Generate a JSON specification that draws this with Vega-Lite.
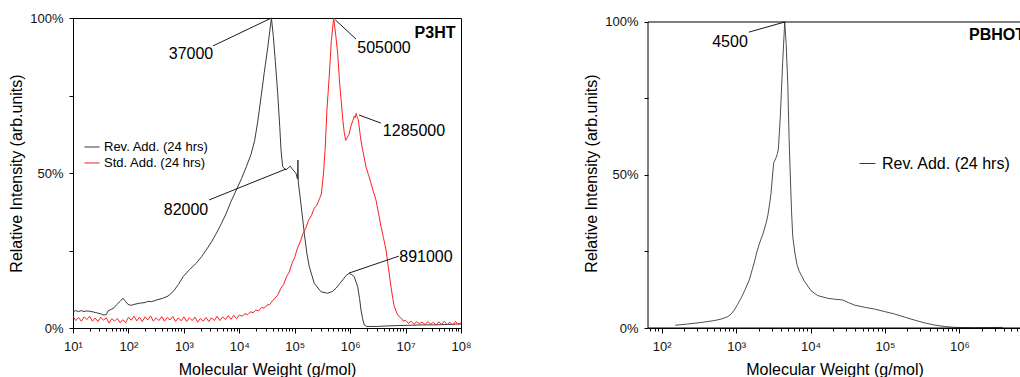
{
  "$schema": "https://vega.github.io/schema/vega-lite/v6.json",
  "padding": {"left": 8, "top": 11, "right": 0, "bottom": 0},
  "spacing": 187,
  "bounds": "flush",
  "config": {
    "font": "Liberation Sans",
    "view": {"stroke": null},
    "axis": {"domainColor": "#000", "tickColor": "#000", "labelColor": "#111", "titleColor": "#000", "titleFontWeight": "normal", "grid": false, "labelFont": "Liberation Sans", "titleFont": "Liberation Sans"},
    "legend": {"labelFont": "Liberation Sans"},
    "text": {"font": "Liberation Sans"}
  },
  "resolve": {"scale": {"x": "independent", "y": "independent", "color": "independent"}, "legend": {"color": "independent"}},
  "datasets": {
    "p3ht": [
      {"s": "Rev. Add. (24 hrs)", "M": 10, "y": 0.052},
      {"s": "Rev. Add. (24 hrs)", "M": 11.22, "y": 0.056},
      {"s": "Rev. Add. (24 hrs)", "M": 12.59, "y": 0.053},
      {"s": "Rev. Add. (24 hrs)", "M": 14.13, "y": 0.056},
      {"s": "Rev. Add. (24 hrs)", "M": 15.85, "y": 0.053},
      {"s": "Rev. Add. (24 hrs)", "M": 17.78, "y": 0.055},
      {"s": "Rev. Add. (24 hrs)", "M": 19.95, "y": 0.054},
      {"s": "Rev. Add. (24 hrs)", "M": 22.96, "y": 0.052},
      {"s": "Rev. Add. (24 hrs)", "M": 25.12, "y": 0.050},
      {"s": "Rev. Add. (24 hrs)", "M": 28.18, "y": 0.048},
      {"s": "Rev. Add. (24 hrs)", "M": 31.62, "y": 0.046},
      {"s": "Rev. Add. (24 hrs)", "M": 34.75, "y": 0.042},
      {"s": "Rev. Add. (24 hrs)", "M": 39.81, "y": 0.043},
      {"s": "Rev. Add. (24 hrs)", "M": 42.76, "y": 0.055},
      {"s": "Rev. Add. (24 hrs)", "M": 50.12, "y": 0.061},
      {"s": "Rev. Add. (24 hrs)", "M": 54.95, "y": 0.065},
      {"s": "Rev. Add. (24 hrs)", "M": 60.4, "y": 0.074},
      {"s": "Rev. Add. (24 hrs)", "M": 70.79, "y": 0.086},
      {"s": "Rev. Add. (24 hrs)", "M": 79.8, "y": 0.096},
      {"s": "Rev. Add. (24 hrs)", "M": 89.13, "y": 0.085},
      {"s": "Rev. Add. (24 hrs)", "M": 98.2, "y": 0.076},
      {"s": "Rev. Add. (24 hrs)", "M": 112.2, "y": 0.073},
      {"s": "Rev. Add. (24 hrs)", "M": 125.9, "y": 0.076},
      {"s": "Rev. Add. (24 hrs)", "M": 159.6, "y": 0.080},
      {"s": "Rev. Add. (24 hrs)", "M": 199.5, "y": 0.082},
      {"s": "Rev. Add. (24 hrs)", "M": 223.9, "y": 0.086},
      {"s": "Rev. Add. (24 hrs)", "M": 263, "y": 0.085},
      {"s": "Rev. Add. (24 hrs)", "M": 318.4, "y": 0.090},
      {"s": "Rev. Add. (24 hrs)", "M": 416.9, "y": 0.096},
      {"s": "Rev. Add. (24 hrs)", "M": 517.6, "y": 0.103},
      {"s": "Rev. Add. (24 hrs)", "M": 636.8, "y": 0.117},
      {"s": "Rev. Add. (24 hrs)", "M": 794.3, "y": 0.140},
      {"s": "Rev. Add. (24 hrs)", "M": 963.8, "y": 0.165},
      {"s": "Rev. Add. (24 hrs)", "M": 1259, "y": 0.188},
      {"s": "Rev. Add. (24 hrs)", "M": 1675, "y": 0.209},
      {"s": "Rev. Add. (24 hrs)", "M": 2089, "y": 0.230},
      {"s": "Rev. Add. (24 hrs)", "M": 2541, "y": 0.252},
      {"s": "Rev. Add. (24 hrs)", "M": 3162, "y": 0.278},
      {"s": "Rev. Add. (24 hrs)", "M": 3846, "y": 0.305},
      {"s": "Rev. Add. (24 hrs)", "M": 4786, "y": 0.338},
      {"s": "Rev. Add. (24 hrs)", "M": 5821, "y": 0.370},
      {"s": "Rev. Add. (24 hrs)", "M": 7079, "y": 0.408},
      {"s": "Rev. Add. (24 hrs)", "M": 8831, "y": 0.445},
      {"s": "Rev. Add. (24 hrs)", "M": 10960, "y": 0.482},
      {"s": "Rev. Add. (24 hrs)", "M": 13400, "y": 0.520},
      {"s": "Rev. Add. (24 hrs)", "M": 16260, "y": 0.560},
      {"s": "Rev. Add. (24 hrs)", "M": 18970, "y": 0.605},
      {"s": "Rev. Add. (24 hrs)", "M": 21480, "y": 0.665},
      {"s": "Rev. Add. (24 hrs)", "M": 25120, "y": 0.755},
      {"s": "Rev. Add. (24 hrs)", "M": 28250, "y": 0.825},
      {"s": "Rev. Add. (24 hrs)", "M": 32360, "y": 0.900},
      {"s": "Rev. Add. (24 hrs)", "M": 34750, "y": 0.945},
      {"s": "Rev. Add. (24 hrs)", "M": 38020, "y": 1.0},
      {"s": "Rev. Add. (24 hrs)", "M": 41210, "y": 0.940},
      {"s": "Rev. Add. (24 hrs)", "M": 44670, "y": 0.860},
      {"s": "Rev. Add. (24 hrs)", "M": 49320, "y": 0.757},
      {"s": "Rev. Add. (24 hrs)", "M": 53700, "y": 0.650},
      {"s": "Rev. Add. (24 hrs)", "M": 56620, "y": 0.574},
      {"s": "Rev. Add. (24 hrs)", "M": 60670, "y": 0.520},
      {"s": "Rev. Add. (24 hrs)", "M": 69660, "y": 0.510},
      {"s": "Rev. Add. (24 hrs)", "M": 75860, "y": 0.516},
      {"s": "Rev. Add. (24 hrs)", "M": 83180, "y": 0.522},
      {"s": "Rev. Add. (24 hrs)", "M": 91200, "y": 0.512},
      {"s": "Rev. Add. (24 hrs)", "M": 105400, "y": 0.499},
      {"s": "Rev. Add. (24 hrs)", "M": 112200, "y": 0.480},
      {"s": "Rev. Add. (24 hrs)", "M": 114300, "y": 0.542},
      {"s": "Rev. Add. (24 hrs)", "M": 116400, "y": 0.468},
      {"s": "Rev. Add. (24 hrs)", "M": 129700, "y": 0.400},
      {"s": "Rev. Add. (24 hrs)", "M": 148900, "y": 0.305},
      {"s": "Rev. Add. (24 hrs)", "M": 166000, "y": 0.240},
      {"s": "Rev. Add. (24 hrs)", "M": 183200, "y": 0.198},
      {"s": "Rev. Add. (24 hrs)", "M": 225400, "y": 0.144},
      {"s": "Rev. Add. (24 hrs)", "M": 297900, "y": 0.117},
      {"s": "Rev. Add. (24 hrs)", "M": 392600, "y": 0.112},
      {"s": "Rev. Add. (24 hrs)", "M": 478600, "y": 0.118},
      {"s": "Rev. Add. (24 hrs)", "M": 555900, "y": 0.128},
      {"s": "Rev. Add. (24 hrs)", "M": 645700, "y": 0.143},
      {"s": "Rev. Add. (24 hrs)", "M": 734500, "y": 0.155},
      {"s": "Rev. Add. (24 hrs)", "M": 851100, "y": 0.170},
      {"s": "Rev. Add. (24 hrs)", "M": 966100, "y": 0.176},
      {"s": "Rev. Add. (24 hrs)", "M": 1072000, "y": 0.172},
      {"s": "Rev. Add. (24 hrs)", "M": 1189000, "y": 0.165},
      {"s": "Rev. Add. (24 hrs)", "M": 1368000, "y": 0.133},
      {"s": "Rev. Add. (24 hrs)", "M": 1479000, "y": 0.095},
      {"s": "Rev. Add. (24 hrs)", "M": 1570000, "y": 0.058},
      {"s": "Rev. Add. (24 hrs)", "M": 1679000, "y": 0.030},
      {"s": "Rev. Add. (24 hrs)", "M": 1799000, "y": 0.010},
      {"s": "Rev. Add. (24 hrs)", "M": 1995000, "y": 0.005},
      {"s": "Rev. Add. (24 hrs)", "M": 3162000, "y": 0.005},
      {"s": "Rev. Add. (24 hrs)", "M": 5012000, "y": 0.007},
      {"s": "Rev. Add. (24 hrs)", "M": 7943000, "y": 0.008},
      {"s": "Rev. Add. (24 hrs)", "M": 12590000, "y": 0.009},
      {"s": "Rev. Add. (24 hrs)", "M": 19950000, "y": 0.010},
      {"s": "Rev. Add. (24 hrs)", "M": 31620000, "y": 0.010},
      {"s": "Rev. Add. (24 hrs)", "M": 50120000, "y": 0.011},
      {"s": "Rev. Add. (24 hrs)", "M": 70790000, "y": 0.012},
      {"s": "Rev. Add. (24 hrs)", "M": 100000000, "y": 0.013},
      {"s": "Std. Add. (24 hrs)", "M": 10, "y": 0.038},
      {"s": "Std. Add. (24 hrs)", "M": 11.22, "y": 0.024},
      {"s": "Std. Add. (24 hrs)", "M": 12.59, "y": 0.034},
      {"s": "Std. Add. (24 hrs)", "M": 14.13, "y": 0.022},
      {"s": "Std. Add. (24 hrs)", "M": 15.85, "y": 0.036},
      {"s": "Std. Add. (24 hrs)", "M": 17.78, "y": 0.027},
      {"s": "Std. Add. (24 hrs)", "M": 19.95, "y": 0.038},
      {"s": "Std. Add. (24 hrs)", "M": 22.39, "y": 0.022},
      {"s": "Std. Add. (24 hrs)", "M": 25.12, "y": 0.032},
      {"s": "Std. Add. (24 hrs)", "M": 28.18, "y": 0.021},
      {"s": "Std. Add. (24 hrs)", "M": 31.62, "y": 0.035},
      {"s": "Std. Add. (24 hrs)", "M": 35.48, "y": 0.025},
      {"s": "Std. Add. (24 hrs)", "M": 39.81, "y": 0.033},
      {"s": "Std. Add. (24 hrs)", "M": 44.67, "y": 0.016},
      {"s": "Std. Add. (24 hrs)", "M": 50.12, "y": 0.030},
      {"s": "Std. Add. (24 hrs)", "M": 56.23, "y": 0.022},
      {"s": "Std. Add. (24 hrs)", "M": 63.1, "y": 0.031},
      {"s": "Std. Add. (24 hrs)", "M": 70.79, "y": 0.017},
      {"s": "Std. Add. (24 hrs)", "M": 79.43, "y": 0.027},
      {"s": "Std. Add. (24 hrs)", "M": 89.13, "y": 0.017},
      {"s": "Std. Add. (24 hrs)", "M": 100, "y": 0.035},
      {"s": "Std. Add. (24 hrs)", "M": 112.2, "y": 0.025},
      {"s": "Std. Add. (24 hrs)", "M": 125.9, "y": 0.038},
      {"s": "Std. Add. (24 hrs)", "M": 141.3, "y": 0.023},
      {"s": "Std. Add. (24 hrs)", "M": 158.5, "y": 0.035},
      {"s": "Std. Add. (24 hrs)", "M": 177.8, "y": 0.021},
      {"s": "Std. Add. (24 hrs)", "M": 199.5, "y": 0.036},
      {"s": "Std. Add. (24 hrs)", "M": 223.9, "y": 0.026},
      {"s": "Std. Add. (24 hrs)", "M": 251.2, "y": 0.039},
      {"s": "Std. Add. (24 hrs)", "M": 281.8, "y": 0.022},
      {"s": "Std. Add. (24 hrs)", "M": 316.2, "y": 0.033},
      {"s": "Std. Add. (24 hrs)", "M": 354.8, "y": 0.024},
      {"s": "Std. Add. (24 hrs)", "M": 398.1, "y": 0.037},
      {"s": "Std. Add. (24 hrs)", "M": 446.7, "y": 0.022},
      {"s": "Std. Add. (24 hrs)", "M": 501.2, "y": 0.034},
      {"s": "Std. Add. (24 hrs)", "M": 562.3, "y": 0.026},
      {"s": "Std. Add. (24 hrs)", "M": 631, "y": 0.037},
      {"s": "Std. Add. (24 hrs)", "M": 707.9, "y": 0.021},
      {"s": "Std. Add. (24 hrs)", "M": 794.3, "y": 0.033},
      {"s": "Std. Add. (24 hrs)", "M": 891.3, "y": 0.023},
      {"s": "Std. Add. (24 hrs)", "M": 1000, "y": 0.036},
      {"s": "Std. Add. (24 hrs)", "M": 1122, "y": 0.021},
      {"s": "Std. Add. (24 hrs)", "M": 1259, "y": 0.033},
      {"s": "Std. Add. (24 hrs)", "M": 1413, "y": 0.024},
      {"s": "Std. Add. (24 hrs)", "M": 1585, "y": 0.035},
      {"s": "Std. Add. (24 hrs)", "M": 1778, "y": 0.019},
      {"s": "Std. Add. (24 hrs)", "M": 1995, "y": 0.031},
      {"s": "Std. Add. (24 hrs)", "M": 2239, "y": 0.022},
      {"s": "Std. Add. (24 hrs)", "M": 2512, "y": 0.034},
      {"s": "Std. Add. (24 hrs)", "M": 2818, "y": 0.021},
      {"s": "Std. Add. (24 hrs)", "M": 3162, "y": 0.033},
      {"s": "Std. Add. (24 hrs)", "M": 3548, "y": 0.024},
      {"s": "Std. Add. (24 hrs)", "M": 3981, "y": 0.038},
      {"s": "Std. Add. (24 hrs)", "M": 4467, "y": 0.024},
      {"s": "Std. Add. (24 hrs)", "M": 5012, "y": 0.036},
      {"s": "Std. Add. (24 hrs)", "M": 5623, "y": 0.027},
      {"s": "Std. Add. (24 hrs)", "M": 6310, "y": 0.040},
      {"s": "Std. Add. (24 hrs)", "M": 7079, "y": 0.028},
      {"s": "Std. Add. (24 hrs)", "M": 7943, "y": 0.041},
      {"s": "Std. Add. (24 hrs)", "M": 8913, "y": 0.030},
      {"s": "Std. Add. (24 hrs)", "M": 10000, "y": 0.042},
      {"s": "Std. Add. (24 hrs)", "M": 11220, "y": 0.038},
      {"s": "Std. Add. (24 hrs)", "M": 12590, "y": 0.046},
      {"s": "Std. Add. (24 hrs)", "M": 14130, "y": 0.043},
      {"s": "Std. Add. (24 hrs)", "M": 15850, "y": 0.052},
      {"s": "Std. Add. (24 hrs)", "M": 17780, "y": 0.049},
      {"s": "Std. Add. (24 hrs)", "M": 19950, "y": 0.058},
      {"s": "Std. Add. (24 hrs)", "M": 22390, "y": 0.055},
      {"s": "Std. Add. (24 hrs)", "M": 25120, "y": 0.066},
      {"s": "Std. Add. (24 hrs)", "M": 28180, "y": 0.064},
      {"s": "Std. Add. (24 hrs)", "M": 31620, "y": 0.074},
      {"s": "Std. Add. (24 hrs)", "M": 35480, "y": 0.076},
      {"s": "Std. Add. (24 hrs)", "M": 39810, "y": 0.088},
      {"s": "Std. Add. (24 hrs)", "M": 44670, "y": 0.097},
      {"s": "Std. Add. (24 hrs)", "M": 50120, "y": 0.108},
      {"s": "Std. Add. (24 hrs)", "M": 56230, "y": 0.128},
      {"s": "Std. Add. (24 hrs)", "M": 63100, "y": 0.140},
      {"s": "Std. Add. (24 hrs)", "M": 70790, "y": 0.165},
      {"s": "Std. Add. (24 hrs)", "M": 79430, "y": 0.180},
      {"s": "Std. Add. (24 hrs)", "M": 89130, "y": 0.208},
      {"s": "Std. Add. (24 hrs)", "M": 100000, "y": 0.228},
      {"s": "Std. Add. (24 hrs)", "M": 112200, "y": 0.258},
      {"s": "Std. Add. (24 hrs)", "M": 125900, "y": 0.278},
      {"s": "Std. Add. (24 hrs)", "M": 141300, "y": 0.305},
      {"s": "Std. Add. (24 hrs)", "M": 158500, "y": 0.322},
      {"s": "Std. Add. (24 hrs)", "M": 177800, "y": 0.348},
      {"s": "Std. Add. (24 hrs)", "M": 199500, "y": 0.362},
      {"s": "Std. Add. (24 hrs)", "M": 223900, "y": 0.386},
      {"s": "Std. Add. (24 hrs)", "M": 251200, "y": 0.396},
      {"s": "Std. Add. (24 hrs)", "M": 281800, "y": 0.418},
      {"s": "Std. Add. (24 hrs)", "M": 302000, "y": 0.432},
      {"s": "Std. Add. (24 hrs)", "M": 331100, "y": 0.500},
      {"s": "Std. Add. (24 hrs)", "M": 354800, "y": 0.580},
      {"s": "Std. Add. (24 hrs)", "M": 380200, "y": 0.700},
      {"s": "Std. Add. (24 hrs)", "M": 416900, "y": 0.805},
      {"s": "Std. Add. (24 hrs)", "M": 457100, "y": 0.925},
      {"s": "Std. Add. (24 hrs)", "M": 505000, "y": 1.0},
      {"s": "Std. Add. (24 hrs)", "M": 549500, "y": 0.945},
      {"s": "Std. Add. (24 hrs)", "M": 595700, "y": 0.886},
      {"s": "Std. Add. (24 hrs)", "M": 645700, "y": 0.790},
      {"s": "Std. Add. (24 hrs)", "M": 683900, "y": 0.740},
      {"s": "Std. Add. (24 hrs)", "M": 741300, "y": 0.668},
      {"s": "Std. Add. (24 hrs)", "M": 783400, "y": 0.630},
      {"s": "Std. Add. (24 hrs)", "M": 831800, "y": 0.605},
      {"s": "Std. Add. (24 hrs)", "M": 871000, "y": 0.612},
      {"s": "Std. Add. (24 hrs)", "M": 955000, "y": 0.625},
      {"s": "Std. Add. (24 hrs)", "M": 1035000, "y": 0.652},
      {"s": "Std. Add. (24 hrs)", "M": 1122000, "y": 0.670},
      {"s": "Std. Add. (24 hrs)", "M": 1189000, "y": 0.684},
      {"s": "Std. Add. (24 hrs)", "M": 1230000, "y": 0.678},
      {"s": "Std. Add. (24 hrs)", "M": 1285000, "y": 0.692},
      {"s": "Std. Add. (24 hrs)", "M": 1349000, "y": 0.680},
      {"s": "Std. Add. (24 hrs)", "M": 1403000, "y": 0.672},
      {"s": "Std. Add. (24 hrs)", "M": 1549000, "y": 0.610},
      {"s": "Std. Add. (24 hrs)", "M": 1683000, "y": 0.574},
      {"s": "Std. Add. (24 hrs)", "M": 1932000, "y": 0.520},
      {"s": "Std. Add. (24 hrs)", "M": 2138000, "y": 0.495},
      {"s": "Std. Add. (24 hrs)", "M": 2377000, "y": 0.467},
      {"s": "Std. Add. (24 hrs)", "M": 2630000, "y": 0.440},
      {"s": "Std. Add. (24 hrs)", "M": 2924000, "y": 0.413},
      {"s": "Std. Add. (24 hrs)", "M": 3236000, "y": 0.372},
      {"s": "Std. Add. (24 hrs)", "M": 3606000, "y": 0.327},
      {"s": "Std. Add. (24 hrs)", "M": 3981000, "y": 0.292},
      {"s": "Std. Add. (24 hrs)", "M": 4436000, "y": 0.252},
      {"s": "Std. Add. (24 hrs)", "M": 4898000, "y": 0.195},
      {"s": "Std. Add. (24 hrs)", "M": 5458000, "y": 0.133},
      {"s": "Std. Add. (24 hrs)", "M": 5888000, "y": 0.095},
      {"s": "Std. Add. (24 hrs)", "M": 6266000, "y": 0.069},
      {"s": "Std. Add. (24 hrs)", "M": 7079000, "y": 0.045},
      {"s": "Std. Add. (24 hrs)", "M": 7709000, "y": 0.036},
      {"s": "Std. Add. (24 hrs)", "M": 8511000, "y": 0.030},
      {"s": "Std. Add. (24 hrs)", "M": 9120000, "y": 0.022},
      {"s": "Std. Add. (24 hrs)", "M": 10000000, "y": 0.025},
      {"s": "Std. Add. (24 hrs)", "M": 11220000, "y": 0.015},
      {"s": "Std. Add. (24 hrs)", "M": 12590000, "y": 0.022},
      {"s": "Std. Add. (24 hrs)", "M": 14130000, "y": 0.012},
      {"s": "Std. Add. (24 hrs)", "M": 15850000, "y": 0.020},
      {"s": "Std. Add. (24 hrs)", "M": 17780000, "y": 0.014},
      {"s": "Std. Add. (24 hrs)", "M": 19950000, "y": 0.019},
      {"s": "Std. Add. (24 hrs)", "M": 22390000, "y": 0.011},
      {"s": "Std. Add. (24 hrs)", "M": 25120000, "y": 0.021},
      {"s": "Std. Add. (24 hrs)", "M": 28180000, "y": 0.013},
      {"s": "Std. Add. (24 hrs)", "M": 31620000, "y": 0.018},
      {"s": "Std. Add. (24 hrs)", "M": 35480000, "y": 0.010},
      {"s": "Std. Add. (24 hrs)", "M": 39810000, "y": 0.020},
      {"s": "Std. Add. (24 hrs)", "M": 44670000, "y": 0.012},
      {"s": "Std. Add. (24 hrs)", "M": 50120000, "y": 0.022},
      {"s": "Std. Add. (24 hrs)", "M": 56230000, "y": 0.011},
      {"s": "Std. Add. (24 hrs)", "M": 63100000, "y": 0.019},
      {"s": "Std. Add. (24 hrs)", "M": 70790000, "y": 0.009},
      {"s": "Std. Add. (24 hrs)", "M": 79430000, "y": 0.021},
      {"s": "Std. Add. (24 hrs)", "M": 89130000, "y": 0.012},
      {"s": "Std. Add. (24 hrs)", "M": 100000000, "y": 0.017}
    ],
    "pbhot": [
      {"s2": "Rev. Add. (24 hrs)", "M": 152.4, "y": 0.009},
      {"s2": "Rev. Add. (24 hrs)", "M": 223.9, "y": 0.013},
      {"s2": "Rev. Add. (24 hrs)", "M": 337.3, "y": 0.018},
      {"s2": "Rev. Add. (24 hrs)", "M": 501.2, "y": 0.024},
      {"s2": "Rev. Add. (24 hrs)", "M": 626.6, "y": 0.029},
      {"s2": "Rev. Add. (24 hrs)", "M": 770.9, "y": 0.037},
      {"s2": "Rev. Add. (24 hrs)", "M": 851.1, "y": 0.045},
      {"s2": "Rev. Add. (24 hrs)", "M": 946.2, "y": 0.059},
      {"s2": "Rev. Add. (24 hrs)", "M": 1047, "y": 0.077},
      {"s2": "Rev. Add. (24 hrs)", "M": 1164, "y": 0.097},
      {"s2": "Rev. Add. (24 hrs)", "M": 1318, "y": 0.125},
      {"s2": "Rev. Add. (24 hrs)", "M": 1503, "y": 0.157},
      {"s2": "Rev. Add. (24 hrs)", "M": 1641, "y": 0.190},
      {"s2": "Rev. Add. (24 hrs)", "M": 1758, "y": 0.215},
      {"s2": "Rev. Add. (24 hrs)", "M": 1905, "y": 0.250},
      {"s2": "Rev. Add. (24 hrs)", "M": 2051, "y": 0.275},
      {"s2": "Rev. Add. (24 hrs)", "M": 2280, "y": 0.306},
      {"s2": "Rev. Add. (24 hrs)", "M": 2512, "y": 0.340},
      {"s2": "Rev. Add. (24 hrs)", "M": 2661, "y": 0.366},
      {"s2": "Rev. Add. (24 hrs)", "M": 2818, "y": 0.405},
      {"s2": "Rev. Add. (24 hrs)", "M": 2944, "y": 0.440},
      {"s2": "Rev. Add. (24 hrs)", "M": 3090, "y": 0.500},
      {"s2": "Rev. Add. (24 hrs)", "M": 3199, "y": 0.540},
      {"s2": "Rev. Add. (24 hrs)", "M": 3436, "y": 0.556},
      {"s2": "Rev. Add. (24 hrs)", "M": 3589, "y": 0.570},
      {"s2": "Rev. Add. (24 hrs)", "M": 3698, "y": 0.585},
      {"s2": "Rev. Add. (24 hrs)", "M": 3926, "y": 0.690},
      {"s2": "Rev. Add. (24 hrs)", "M": 4227, "y": 0.870},
      {"s2": "Rev. Add. (24 hrs)", "M": 4500, "y": 1.0},
      {"s2": "Rev. Add. (24 hrs)", "M": 4699, "y": 0.930},
      {"s2": "Rev. Add. (24 hrs)", "M": 4943, "y": 0.800},
      {"s2": "Rev. Add. (24 hrs)", "M": 5152, "y": 0.620},
      {"s2": "Rev. Add. (24 hrs)", "M": 5346, "y": 0.500},
      {"s2": "Rev. Add. (24 hrs)", "M": 5559, "y": 0.380},
      {"s2": "Rev. Add. (24 hrs)", "M": 5768, "y": 0.300},
      {"s2": "Rev. Add. (24 hrs)", "M": 6166, "y": 0.245},
      {"s2": "Rev. Add. (24 hrs)", "M": 6607, "y": 0.205},
      {"s2": "Rev. Add. (24 hrs)", "M": 7063, "y": 0.185},
      {"s2": "Rev. Add. (24 hrs)", "M": 8318, "y": 0.152},
      {"s2": "Rev. Add. (24 hrs)", "M": 10160, "y": 0.122},
      {"s2": "Rev. Add. (24 hrs)", "M": 12500, "y": 0.106},
      {"s2": "Rev. Add. (24 hrs)", "M": 17020, "y": 0.097},
      {"s2": "Rev. Add. (24 hrs)", "M": 21380, "y": 0.094},
      {"s2": "Rev. Add. (24 hrs)", "M": 27100, "y": 0.0915},
      {"s2": "Rev. Add. (24 hrs)", "M": 32360, "y": 0.083},
      {"s2": "Rev. Add. (24 hrs)", "M": 38820, "y": 0.075},
      {"s2": "Rev. Add. (24 hrs)", "M": 52480, "y": 0.068},
      {"s2": "Rev. Add. (24 hrs)", "M": 72110, "y": 0.062},
      {"s2": "Rev. Add. (24 hrs)", "M": 97720, "y": 0.054},
      {"s2": "Rev. Add. (24 hrs)", "M": 133700, "y": 0.046},
      {"s2": "Rev. Add. (24 hrs)", "M": 182000, "y": 0.036},
      {"s2": "Rev. Add. (24 hrs)", "M": 248300, "y": 0.026},
      {"s2": "Rev. Add. (24 hrs)", "M": 338800, "y": 0.017},
      {"s2": "Rev. Add. (24 hrs)", "M": 461300, "y": 0.0098},
      {"s2": "Rev. Add. (24 hrs)", "M": 631000, "y": 0.005},
      {"s2": "Rev. Add. (24 hrs)", "M": 857000, "y": 0.002},
      {"s2": "Rev. Add. (24 hrs)", "M": 1175000, "y": 0.0015},
      {"s2": "Rev. Add. (24 hrs)", "M": 1592000, "y": 0.001},
      {"s2": "Rev. Add. (24 hrs)", "M": 2512000, "y": 0.0015},
      {"s2": "Rev. Add. (24 hrs)", "M": 3828000, "y": 0.002}
    ],
    "lines1": [
      {"x": 3360, "y": 0.91, "x2": 38020, "y2": 1.0},
      {"x": 540000, "y": 0.994, "x2": 1276000, "y2": 0.932},
      {"x": 1445000, "y": 0.687, "x2": 3600000, "y2": 0.661},
      {"x": 2844, "y": 0.413, "x2": 69600, "y2": 0.513},
      {"x": 950000, "y": 0.177, "x2": 7600000, "y2": 0.232}
    ],
    "ann1": [
      {"x": 1346, "y": 0.884, "t": "37000"},
      {"x": 4080000, "y": 0.903, "t": "505000"},
      {"x": 14200000, "y": 0.635, "t": "1285000"},
      {"x": 1094, "y": 0.381, "t": "82000"},
      {"x": 23300000, "y": 0.229, "t": "891000"}
    ],
    "title1": [{"x": 34000000, "y": 0.952, "t": "P3HT"}],
    "lines2": [{"x": 1489, "y": 0.967, "x2": 4500, "y2": 1.0}],
    "ann2": [{"x": 828, "y": 0.935, "t": "4500"}],
    "title2": [{"x": 1350000, "y": 0.958, "t": "PBHOT"}],
    "frame2": [{"x": 65.4, "y": 0, "y2": 1}]
  },
  "hconcat": [
    {
      "width": 388,
      "height": 310,
      "view": {"stroke": "#000", "strokeWidth": 1},
      "resolve": {"axis": {"x": "independent"}},
      "layer": [
        {
          "data": {"name": "p3ht"},
          "mark": {"type": "line", "strokeWidth": 1, "clip": true},
          "encoding": {
            "x": {"field": "M", "type": "quantitative",
              "scale": {"type": "log", "domain": [10, 100000000], "nice": false},
              "axis": {"orient": "bottom", "values": [10, 100, 1000, 10000, 100000, 1000000, 10000000, 100000000],
                "labelExpr": "'10' + ['⁰','¹','²','³','⁴','⁵','⁶','⁷','⁸'][round(log(datum.value)/LN10)]",
                "tickSize": 5, "labelFontSize": 13, "labelPadding": 7, "labelFlush": false, "labelOverlap": false,
                "title": "Molecular Weight (g/mol)", "titleFontSize": 16, "titlePadding": 8}},
            "y": {"field": "y", "type": "quantitative",
              "scale": {"domain": [0, 1], "nice": false},
              "axis": {"values": [0, 0.25, 0.5, 0.75, 1],
                "labelExpr": "datum.value == 0 ? '0%' : datum.value == 0.5 ? '50%' : datum.value == 1 ? '100%' : ''",
                "tickSize": 4, "labelFontSize": 13, "labelPadding": 6, "labelOverlap": false, "labelFlush": false,
                "title": "Relative Intensity (arb.units)", "titleFontSize": 16, "titlePadding": 5}},
            "color": {"field": "s", "type": "nominal",
              "scale": {"domain": ["Rev. Add. (24 hrs)", "Std. Add. (24 hrs)"], "range": ["#3a3a3a", "#ff1f1f"]},
              "legend": {"orient": "none", "legendX": 11, "legendY": 121, "title": null, "symbolType": "stroke",
                "symbolSize": 225, "symbolStrokeWidth": 1, "labelFontSize": 13, "labelOffset": 4, "rowPadding": 1,
                "padding": 0, "labelColor": "#000"}}
          }
        },
        {
          "data": {"name": "lines1"},
          "mark": {"type": "rule", "color": "#000", "strokeWidth": 0.9},
          "encoding": {
            "x": {"field": "x", "type": "quantitative",
              "axis": {"orient": "bottom", "values": [20,30,40,50,60,70,80,90,200,300,400,500,600,700,800,900,2000,3000,4000,5000,6000,7000,8000,9000,20000,30000,40000,50000,60000,70000,80000,90000,200000,300000,400000,500000,600000,700000,800000,900000,2000000,3000000,4000000,5000000,6000000,7000000,8000000,9000000,20000000,30000000,40000000,50000000,60000000,70000000,80000000,90000000],
                "labels": false, "domain": false, "tickSize": 3, "title": null, "grid": false}},
            "y": {"field": "y", "type": "quantitative"},
            "x2": {"field": "x2"},
            "y2": {"field": "y2"}
          }
        },
        {
          "data": {"name": "ann1"},
          "mark": {"type": "text", "fontSize": 16, "align": "center", "baseline": "middle", "color": "#000"},
          "encoding": {
            "x": {"field": "x", "type": "quantitative", "axis": null},
            "y": {"field": "y", "type": "quantitative"},
            "text": {"field": "t"}
          }
        },
        {
          "data": {"name": "title1"},
          "mark": {"type": "text", "fontSize": 16, "fontWeight": "bold", "align": "center", "baseline": "middle", "color": "#000"},
          "encoding": {
            "x": {"field": "x", "type": "quantitative", "axis": null},
            "y": {"field": "y", "type": "quantitative"},
            "text": {"field": "t"}
          }
        }
      ]
    },
    {
      "width": 373,
      "height": 310,
      "resolve": {"axis": {"x": "independent"}},
      "layer": [
        {
          "data": {"name": "pbhot"},
          "mark": {"type": "line", "strokeWidth": 0.9, "clip": true},
          "encoding": {
            "x": {"field": "M", "type": "quantitative",
              "scale": {"type": "log", "domain": [65.4, 6745000], "nice": false},
              "axis": {"orient": "bottom", "values": [100, 1000, 10000, 100000, 1000000],
                "labelExpr": "'10' + ['⁰','¹','²','³','⁴','⁵','⁶','⁷','⁸'][round(log(datum.value)/LN10)]",
                "tickSize": 5, "labelFontSize": 13, "labelPadding": 7, "labelFlush": false, "labelOverlap": false,
                "title": "Molecular Weight (g/mol)", "titleFontSize": 16, "titlePadding": 8}},
            "y": {"field": "y", "type": "quantitative",
              "scale": {"domain": [0, 1.01307], "nice": false},
              "axis": {"values": [0, 0.25, 0.5, 0.75, 1], "domain": false,
                "labelExpr": "datum.value == 0 ? '0%' : datum.value == 0.5 ? '50%' : datum.value == 1 ? '100%' : ''",
                "tickSize": 4, "labelFontSize": 13, "labelPadding": 6, "labelOverlap": false, "labelFlush": false,
                "title": "Relative Intensity (arb.units)", "titleFontSize": 16, "titlePadding": 5}},
            "color": {"field": "s2", "type": "nominal",
              "scale": {"domain": ["Rev. Add. (24 hrs)"], "range": ["#3a3a3a"]},
              "legend": {"orient": "none", "legendX": 211, "legendY": 137, "title": null, "symbolType": "stroke",
                "symbolSize": 256, "symbolStrokeWidth": 1, "labelFontSize": 16, "labelOffset": 6,
                "padding": 0, "labelColor": "#000"}}
          }
        },
        {
          "data": {"name": "lines2"},
          "mark": {"type": "rule", "color": "#000", "strokeWidth": 0.9},
          "encoding": {
            "x": {"field": "x", "type": "quantitative",
              "axis": {"orient": "bottom", "values": [70,80,90,200,300,400,500,600,700,800,900,2000,3000,4000,5000,6000,7000,8000,9000,20000,30000,40000,50000,60000,70000,80000,90000,200000,300000,400000,500000,600000,700000,800000,900000,2000000,3000000,4000000,5000000,6000000],
                "labels": false, "domain": false, "tickSize": 3, "title": null, "grid": false}},
            "y": {"field": "y", "type": "quantitative"},
            "x2": {"field": "x2"},
            "y2": {"field": "y2"}
          }
        },
        {
          "data": {"name": "frame2"},
          "mark": {"type": "rule", "color": "#000", "strokeWidth": 1},
          "encoding": {
            "x": {"field": "x", "type": "quantitative", "axis": null},
            "y": {"field": "y", "type": "quantitative"},
            "y2": {"field": "y2"}
          }
        },
        {
          "data": {"name": "frame2"},
          "mark": {"type": "rule", "color": "#000", "strokeWidth": 1},
          "encoding": {
            "y": {"field": "y2", "type": "quantitative"}
          }
        },
        {
          "data": {"name": "frame2"},
          "mark": {"type": "rule", "color": "#000", "strokeWidth": 1},
          "encoding": {
            "y": {"field": "y", "type": "quantitative"}
          }
        },
        {
          "data": {"name": "ann2"},
          "mark": {"type": "text", "fontSize": 16, "align": "center", "baseline": "middle", "color": "#000"},
          "encoding": {
            "x": {"field": "x", "type": "quantitative", "axis": null},
            "y": {"field": "y", "type": "quantitative"},
            "text": {"field": "t"}
          }
        },
        {
          "data": {"name": "title2"},
          "mark": {"type": "text", "fontSize": 16, "fontWeight": "bold", "align": "left", "baseline": "middle", "color": "#000", "clip": true},
          "encoding": {
            "x": {"field": "x", "type": "quantitative", "axis": null},
            "y": {"field": "y", "type": "quantitative"},
            "text": {"field": "t"}
          }
        }
      ]
    }
  ]
}
